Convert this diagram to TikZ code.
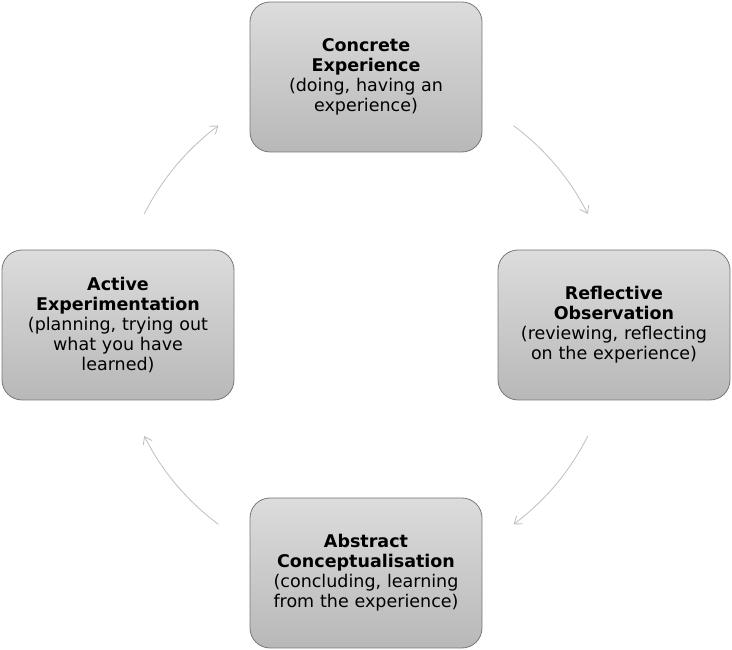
\documentclass[tikz,border=0pt]{standalone}
\usepackage{fontspec}
\setmainfont{DejaVu Sans}
\usetikzlibrary{arrows.meta, calc}
\definecolor{boxtop}{RGB}{220,220,220}
\definecolor{boxbottom}{RGB}{184,184,184}
\definecolor{boxline}{RGB}{120,120,120}
\definecolor{arrowgray}{RGB}{190,190,190}
\begin{document}
\begin{tikzpicture}[x=1pt, y=1pt,
	stage/.style={draw=boxline, line width=0.8pt, rounded corners=20pt,
		top color=boxtop, bottom color=boxbottom,
		minimum width=232pt, minimum height=150pt, text width=222pt,
		align=center, font=\fontsize{17.5}{20}\selectfont},
	cycle/.style={draw=arrowgray, line width=0.8pt, -{Straight Barb[length=7pt, width=10pt]}}]
				\useasboundingbox (0,0) rectangle (732,650);
				%centre of the cycle
				\coordinate (o) at (366,325);
				
				%the four stages
				\node[stage] (ce) at (366,573) {\textbf{Concrete\\Experience}\\(doing, having an\\experience)};
				\node[stage] (ro) at (614,325) {\textbf{Reflective\\Observation}\\(reviewing, reflecting\\on the experience)};
				\node[stage] (ac) at (366,77) {\textbf{Abstract\\Conceptualisation}\\(concluding, learning\\from the experience)};
				\node[stage] (ae) at (118,325) {\textbf{Active\\Experimentation}\\(planning, trying out\\what you have\\learned)};
				
				%arcs between the stages
				\foreach \s/\e/\n in {53.5/26.6/a, -26.6/-53.5/b, -126.5/-153.4/c, 153.4/126.5/d}{
					\coordinate (\n) at ($(o)+(\s:248)$);
					\draw[cycle] (\n) arc[start angle=\s, end angle=\e, radius=248];
				}
			\end{tikzpicture}
\end{document}
